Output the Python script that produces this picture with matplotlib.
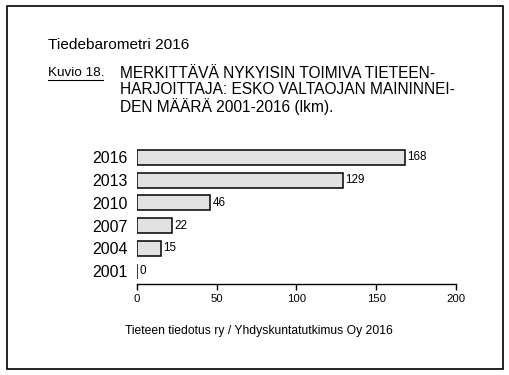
import matplotlib.pyplot as plt
from matplotlib.patches import Rectangle

plt.rcParams['font.family'] = ['Liberation Sans', 'DejaVu Sans']

# Data
years = ['2001', '2004', '2007', '2010', '2013', '2016']
mentions = [0, 15, 22, 46, 129, 168]
xticks = [0, 50, 100, 150, 200]

W, H = 510, 375
fig = plt.figure(figsize=(W / 100, H / 100), dpi=100)

# outer frame
fig.add_artist(Rectangle((7 / W, 1 - 369 / H), (503 - 7) / W, (369 - 6) / H,
                         transform=fig.transFigure, fill=False,
                         edgecolor='black', lw=1.2))

# axes placed in pixel coordinates
left, right, top, bottom = 137, 456, 145, 284
ax = fig.add_axes([left / W, 1 - bottom / H, (right - left) / W, (bottom - top) / H])

pos = list(range(len(years)))
bars = ax.barh(pos, mentions, height=0.66, color='#e2e2e2',
               edgecolor='black', linewidth=1.1)
for p, v in zip(pos, mentions):
    ax.text(v + 1.5, p, str(v), va='center', ha='left', fontsize=8.4)

ax.set_xlim(0, 200)
ax.set_ylim(-0.57, 5.55)
ax.set_yticks(pos)
ax.set_yticklabels(years, fontsize=11.5)
ax.set_xticks(xticks)
ax.set_xticklabels([str(t) for t in xticks], fontsize=8.2)
ax.tick_params(axis='y', length=0, pad=7)
ax.tick_params(axis='x', length=4, width=1, pad=3)
for s in ['top', 'right', 'left']:
    ax.spines[s].set_visible(False)
ax.spines['bottom'].set_linewidth(1)
ax.spines['bottom'].set_bounds(0, 200)

# header texts
fig.text(48 / W, 1 - 45 / H, 'Tiedebarometri 2016', fontsize=11.1, va='center')
fig.text(48 / W, 1 - 73 / H, 'Kuvio 18.', fontsize=9.7, va='center')
fig.add_artist(plt.Line2D([48 / W, 103 / W], [1 - 80 / H, 1 - 80 / H],
                          color='black', lw=0.8))
title_lines = ['MERKITTÄVÄ NYKYISIN TOIMIVA TIETEEN-',
               'HARJOITTAJA: ESKO VALTAOJAN MAININNEI-',
               'DEN MÄÄRÄ 2001-2016 (lkm).']
for i, line in enumerate(title_lines):
    fig.text(120 / W, 1 - (73 + 17 * i) / H, line, fontsize=11.2, va='center')

fig.text(125 / W, 1 - 331 / H, 'Tieteen tiedotus ry / Yhdyskuntatutkimus Oy 2016',
         fontsize=8.7, va='center')

fig.savefig('out.png', dpi=100)
